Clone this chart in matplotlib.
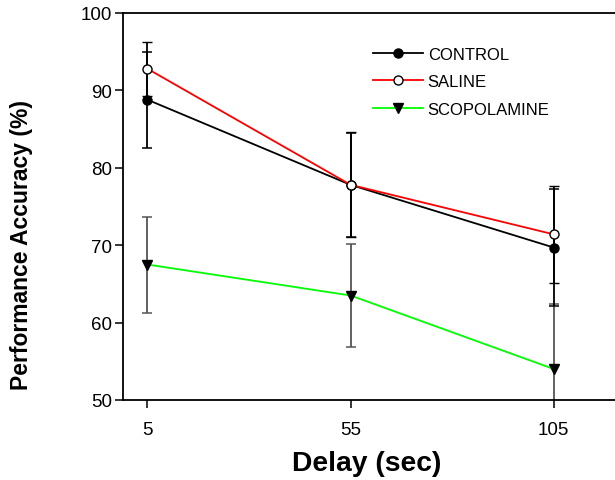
import matplotlib
matplotlib.use("Agg")
import matplotlib.pyplot as plt
from matplotlib.lines import Line2D

plt.rcParams['font.family'] = ['Liberation Sans', 'DejaVu Sans']

# valores
delay = [5, 55, 105]
control = [88.8, 77.8, 69.7]
control_err = [6.2, 6.7, 7.5]
saline = [92.8, 77.8, 71.4]
saline_err = [3.5, 6.8, 6.3]
scopolamine = [67.5, 63.5, 54.0]
scopolamine_err = [6.2, 6.6, 8.4]

xticks = [5, 55, 105]
yticks = [50, 60, 70, 80, 90, 100]

fig = plt.figure(figsize=(6.15, 4.81), dpi=100)
ax = fig.add_axes([123 / 615, 80 / 481, 512 / 615, 387 / 481])

# SCOPOLAMINE
ax.errorbar(delay, scopolamine, yerr=scopolamine_err, color='#00ff00', ecolor='#555555',
            elinewidth=1.3, capsize=3.5, capthick=1.1, lw=1.3, marker='v', ms=7,
            mfc='black', mec='black', zorder=2)
# CONTROL
ax.errorbar(delay, control, yerr=control_err, color='black', ecolor='black',
            elinewidth=1.3, capsize=3.5, capthick=1.1, lw=1.3, marker='o', ms=6.5,
            mfc='black', mec='black', zorder=3)
# SALINE
ax.errorbar(delay, saline, yerr=saline_err, color='red', ecolor='black',
            elinewidth=1.3, capsize=3.5, capthick=1.1, lw=1.3, marker='o', ms=6.5,
            mfc='white', mec='black', mew=1.0, zorder=4)

ax.set_xlim(-1, 125)
ax.set_ylim(50, 100)
ax.set_xticks(xticks)
ax.set_yticks(yticks)
ax.tick_params(direction='out', length=6, width=1.1, labelsize=13.5, pad=2)
ax.tick_params(axis='x', pad=9)
for s in ax.spines.values():
    s.set_linewidth(1.3)

ax.set_xlabel('Delay (sec)', fontsize=20.3, fontweight='bold')
ax.xaxis.set_label_coords(0.476, -0.13)
ax.set_ylabel('Performance Accuracy (%)', fontsize=16.5, fontweight='bold')
ax.yaxis.set_label_coords(-0.175, 0.403)

# leyenda con lineas simples
handles = [
    Line2D([], [], color='black', lw=1.3, marker='o', ms=6.5, mfc='black', mec='black'),
    Line2D([], [], color='red', lw=1.3, marker='o', ms=6.5, mfc='white', mec='black'),
    Line2D([], [], color='#00ff00', lw=1.3, marker='v', ms=7, mfc='black', mec='black'),
]
labels = ['CONTROL', 'SALINE', 'SCOPOLAMINE']
ax.legend(handles, labels, loc='upper left', bbox_to_anchor=(243 / 512, 0.93),
          frameon=False, fontsize=12, handlelength=3.0, handletextpad=0.3,
          labelspacing=0.75, borderaxespad=0)

fig.savefig('out.png', dpi=100)
